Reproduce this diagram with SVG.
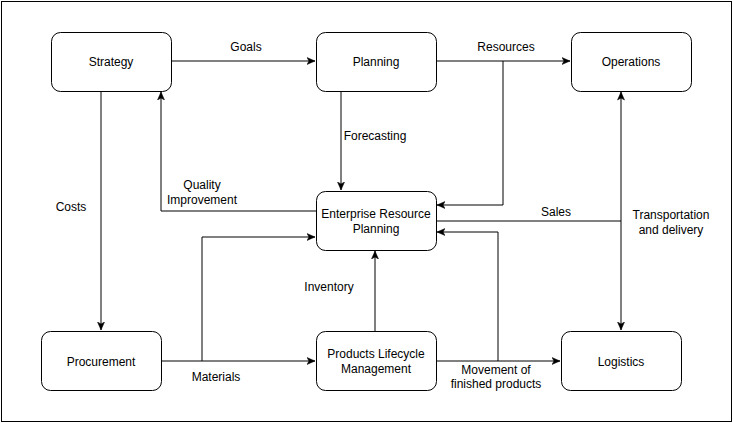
<svg xmlns="http://www.w3.org/2000/svg" width="733" height="423" viewBox="0 0 733 423">
<style>
.box{fill:#fff;stroke:#000;stroke-width:1}
.t{font-family:"Liberation Sans",Arial,sans-serif;font-size:12px;fill:#000;text-anchor:middle}
.c{fill:none;stroke:#000;stroke-width:1}
</style>
<defs>
<marker id="a" markerUnits="userSpaceOnUse" markerWidth="10" markerHeight="10" refX="8" refY="4" orient="auto">
<path d="M0,0.5 L8,4 L0,7.5 L2,4 z" fill="#000" stroke="#000" stroke-width="0.5"/>
</marker>
<marker id="s" markerUnits="userSpaceOnUse" markerWidth="10" markerHeight="10" refX="0" refY="4" orient="auto">
<path d="M8,0.5 L0,4 L8,7.5 L6,4 z" fill="#000" stroke="#000" stroke-width="0.5"/>
</marker>
</defs>
<rect x="1.5" y="1.5" width="730" height="420" fill="#fff" stroke="#000"/>
<g id="connectors">
<path class="c" d="M171,61 H315" marker-end="url(#a)"/>
<path class="c" d="M436,61 H570" marker-end="url(#a)"/>
<path class="c" d="M503,61 V205 H437" marker-end="url(#a)"/>
<path class="c" d="M101,91 V330" marker-end="url(#a)"/>
<path class="c" d="M316,211 H161 V92" marker-end="url(#a)"/>
<path class="c" d="M341,91 V190" marker-end="url(#a)"/>
<path class="c" d="M161,361 H315" marker-end="url(#a)"/>
<path class="c" d="M202,361 V237 H315" marker-end="url(#a)"/>
<path class="c" d="M375,331 V251" marker-end="url(#a)"/>
<path class="c" d="M436,361 H560" marker-end="url(#a)"/>
<path class="c" d="M498,361 V232 H437" marker-end="url(#a)"/>
<path class="c" d="M436,221 H621"/>
<path class="c" d="M621,92 V330" marker-start="url(#s)" marker-end="url(#a)"/>
<text class="t" x="246" y="51">Goals</text>
<text class="t" x="506" y="51">Resources</text>
<text class="t" x="71" y="211">Costs</text>
<text class="t" x="202" y="189">Quality</text>
<text class="t" x="202" y="204">Improvement</text>
<text class="t" x="375" y="140">Forecasting</text>
<text class="t" x="216" y="381">Materials</text>
<text class="t" x="329" y="291">Inventory</text>
<text class="t" x="496" y="374">Movement of</text>
<text class="t" x="496" y="388">finished products</text>
<text class="t" x="556" y="216">Sales</text>
<text class="t" x="671" y="219">Transportation</text>
<text class="t" x="671" y="234">and delivery</text>
</g>
<g id="strategy"><rect class="box" x="51.5" y="32.5" width="120" height="59" rx="9"/><text class="t" x="111" y="66">Strategy</text></g>
<g id="planning"><rect class="box" x="316.5" y="32.5" width="120" height="59" rx="9"/><text class="t" x="376" y="66">Planning</text></g>
<g id="operations"><rect class="box" x="571.5" y="32.5" width="120" height="59" rx="9"/><text class="t" x="631" y="66">Operations</text></g>
<g id="erp"><rect class="box" x="316.5" y="191.5" width="120" height="59" rx="9"/><text class="t" x="376" y="218">Enterprise Resource</text><text class="t" x="376" y="233">Planning</text></g>
<g id="procurement"><rect class="box" x="41.5" y="331.5" width="120" height="59" rx="9"/><text class="t" x="101" y="366">Procurement</text></g>
<g id="plm"><rect class="box" x="316.5" y="331.5" width="120" height="59" rx="9"/><text class="t" x="376" y="358">Products Lifecycle</text><text class="t" x="376" y="373">Management</text></g>
<g id="logistics"><rect class="box" x="561.5" y="331.5" width="120" height="59" rx="9"/><text class="t" x="621" y="366">Logistics</text></g>
</svg>
